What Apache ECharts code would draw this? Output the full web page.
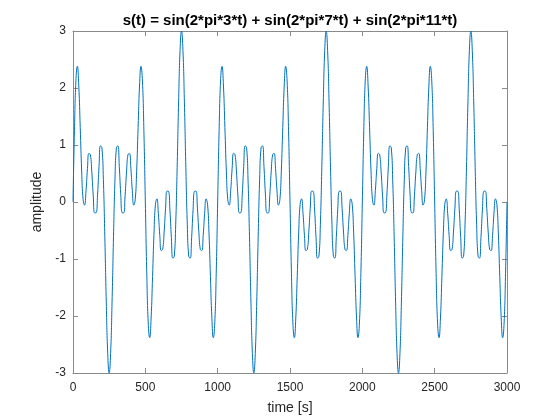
<!DOCTYPE html>
<html>
<head>
<meta charset="utf-8">
<script src="https://cdn.jsdelivr.net/npm/echarts@6/dist/echarts.min.js"></script>
<style>html,body{margin:0;padding:0;background:#fff;}#c{width:560px;height:420px;}</style>
</head>
<body>
<div id="c"></div>
<script>
var titleText = 's(t) = sin(2*pi*3*t) + sin(2*pi*7*t) + sin(2*pi*11*t)';
var xName = 'time [s]';
var yName = 'amplitude';
var xTicks = [0, 500, 1000, 1500, 2000, 2500, 3000];
var yTicks = [-3, -2, -1, 0, 1, 2, 3];

var times = [
0,10,20,30,40,50,60,70,80,90,100,110,120,130,140,150,160,170,180,190,
200,210,220,230,240,250,260,270,280,290,300,310,320,330,340,350,360,370,380,390,
400,410,420,430,440,450,460,470,480,490,500,510,520,530,540,550,560,570,580,590,
600,610,620,630,640,650,660,670,680,690,700,710,720,730,740,750,760,770,780,790,
800,810,820,830,840,850,860,870,880,890,900,910,920,930,940,950,960,970,980,990,
1000,1010,1020,1030,1040,1050,1060,1070,1080,1090,1100,1110,1120,1130,1140,1150,1160,1170,1180,1190,
1200,1210,1220,1230,1240,1250,1260,1270,1280,1290,1300,1310,1320,1330,1340,1350,1360,1370,1380,1390,
1400,1410,1420,1430,1440,1450,1460,1470,1480,1490,1500,1510,1520,1530,1540,1550,1560,1570,1580,1590,
1600,1610,1620,1630,1640,1650,1660,1670,1680,1690,1700,1710,1720,1730,1740,1750,1760,1770,1780,1790,
1800,1810,1820,1830,1840,1850,1860,1870,1880,1890,1900,1910,1920,1930,1940,1950,1960,1970,1980,1990,
2000,2010,2020,2030,2040,2050,2060,2070,2080,2090,2100,2110,2120,2130,2140,2150,2160,2170,2180,2190,
2200,2210,2220,2230,2240,2250,2260,2270,2280,2290,2300,2310,2320,2330,2340,2350,2360,2370,2380,2390,
2400,2410,2420,2430,2440,2450,2460,2470,2480,2490,2500,2510,2520,2530,2540,2550,2560,2570,2580,2590,
2600,2610,2620,2630,2640,2650,2660,2670,2680,2690,2700,2710,2720,2730,2740,2750,2760,2770,2780,2790,
2800,2810,2820,2830,2840,2850,2860,2870,2880,2890,2900,2910,2920,2930,2940,2950,2960,2970,2980,2990,
3000];

var amplitude = [
0,1.251,2.121,2.381,2.035,1.309,0.542,0.039,-0.055,0.200,0.588,0.853,0.831,0.527,0.108,-0.191,-0.188,0.138,0.624,0.986,
0.951,0.388,-0.611,-1.755,-2.658,-3,-2.658,-1.755,-0.611,0.388,0.951,0.986,0.624,0.138,-0.188,-0.191,0.108,0.527,0.831,0.853,
0.588,0.200,-0.055,0.039,0.542,1.309,2.035,2.381,2.121,1.251,0,-1.251,-2.121,-2.381,-2.035,-1.309,-0.542,-0.039,0.055,-0.200,
-0.588,-0.853,-0.831,-0.527,-0.108,0.191,0.188,-0.138,-0.624,-0.986,-0.951,-0.388,0.611,1.755,2.658,3,2.658,1.755,0.611,-0.388,
-0.951,-0.986,-0.624,-0.138,0.188,0.191,-0.108,-0.527,-0.831,-0.853,-0.588,-0.200,0.055,-0.039,-0.542,-1.309,-2.035,-2.381,-2.121,-1.251,
0,1.251,2.121,2.381,2.035,1.309,0.542,0.039,-0.055,0.200,0.588,0.853,0.831,0.527,0.108,-0.191,-0.188,0.138,0.624,0.986,
0.951,0.388,-0.611,-1.755,-2.658,-3,-2.658,-1.755,-0.611,0.388,0.951,0.986,0.624,0.138,-0.188,-0.191,0.108,0.527,0.831,0.853,
0.588,0.200,-0.055,0.039,0.542,1.309,2.035,2.381,2.121,1.251,0,-1.251,-2.121,-2.381,-2.035,-1.309,-0.542,-0.039,0.055,-0.200,
-0.588,-0.853,-0.831,-0.527,-0.108,0.191,0.188,-0.138,-0.624,-0.986,-0.951,-0.388,0.611,1.755,2.658,3,2.658,1.755,0.611,-0.388,
-0.951,-0.986,-0.624,-0.138,0.188,0.191,-0.108,-0.527,-0.831,-0.853,-0.588,-0.200,0.055,-0.039,-0.542,-1.309,-2.035,-2.381,-2.121,-1.251,
0,1.251,2.121,2.381,2.035,1.309,0.542,0.039,-0.055,0.200,0.588,0.853,0.831,0.527,0.108,-0.191,-0.188,0.138,0.624,0.986,
0.951,0.388,-0.611,-1.755,-2.658,-3,-2.658,-1.755,-0.611,0.388,0.951,0.986,0.624,0.138,-0.188,-0.191,0.108,0.527,0.831,0.853,
0.588,0.200,-0.055,0.039,0.542,1.309,2.035,2.381,2.121,1.251,0,-1.251,-2.121,-2.381,-2.035,-1.309,-0.542,-0.039,0.055,-0.200,
-0.588,-0.853,-0.831,-0.527,-0.108,0.191,0.188,-0.138,-0.624,-0.986,-0.951,-0.388,0.611,1.755,2.658,3,2.658,1.755,0.611,-0.388,
-0.951,-0.986,-0.624,-0.138,0.188,0.191,-0.108,-0.527,-0.831,-0.853,-0.588,-0.200,0.055,-0.039,-0.542,-1.309,-2.035,-2.381,-2.121,-1.251,
0];

var points = times.map(function (t, i) { return [t, amplitude[i]]; });

var axisColor = '#8a8a8a';
var textColor = '#262626';
var fontFam = 'Arial, "Liberation Sans", Helvetica, sans-serif';

var chart = echarts.init(document.getElementById('c'), null, {renderer: 'canvas'});

function plain(v) { return String(v); }

function mkX(pos, showLabel) {
  return {
    type: 'value', position: pos, min: xTicks[0], max: xTicks[xTicks.length - 1],
    interval: xTicks[1] - xTicks[0],
    name: showLabel ? xName : '', nameLocation: 'middle', nameGap: 28,
    nameTextStyle: {color: textColor, fontSize: 14, fontFamily: fontFam},
    axisLine: {show: true, onZero: false, lineStyle: {color: axisColor, width: 1}},
    axisTick: {show: true, inside: true, length: 5, lineStyle: {color: axisColor}},
    axisLabel: {show: showLabel, color: textColor, fontSize: 12, fontFamily: fontFam, margin: 9, formatter: plain},
    splitLine: {show: false}
  };
}
function mkY(pos, showLabel) {
  return {
    type: 'value', position: pos, min: yTicks[0], max: yTicks[yTicks.length - 1],
    interval: yTicks[1] - yTicks[0],
    name: showLabel ? yName : '', nameLocation: 'middle', nameGap: 23,
    nameTextStyle: {color: textColor, fontSize: 14, fontFamily: fontFam},
    axisLine: {show: true, onZero: false, lineStyle: {color: axisColor, width: 1}},
    axisTick: {show: true, inside: true, length: 5, lineStyle: {color: axisColor}},
    axisLabel: {show: showLabel, color: textColor, fontSize: 12, fontFamily: fontFam, margin: 7, formatter: plain},
    splitLine: {show: false}
  };
}

chart.setOption({
  animation: false,
  backgroundColor: '#ffffff',
  grid: {left: 73, right: 53, top: 31, bottom: 47, containLabel: false},
  xAxis: [mkX('bottom', true), mkX('top', false)],
  yAxis: [mkY('left', true), mkY('right', false)],
  graphic: [{
    type: 'text', x: 290, y: 21,
    style: {text: titleText, align: 'center', verticalAlign: 'middle',
      font: 'bold 15px Arial, "Liberation Sans", sans-serif', fill: '#000000'}
  }],
  series: [{
    type: 'line', xAxisIndex: 0, yAxisIndex: 0,
    data: points, showSymbol: false, symbol: 'none', smooth: 0.5,
    lineStyle: {color: '#0072BD', width: 1},
    clip: true
  }]
});
</script>
</body>
</html>
